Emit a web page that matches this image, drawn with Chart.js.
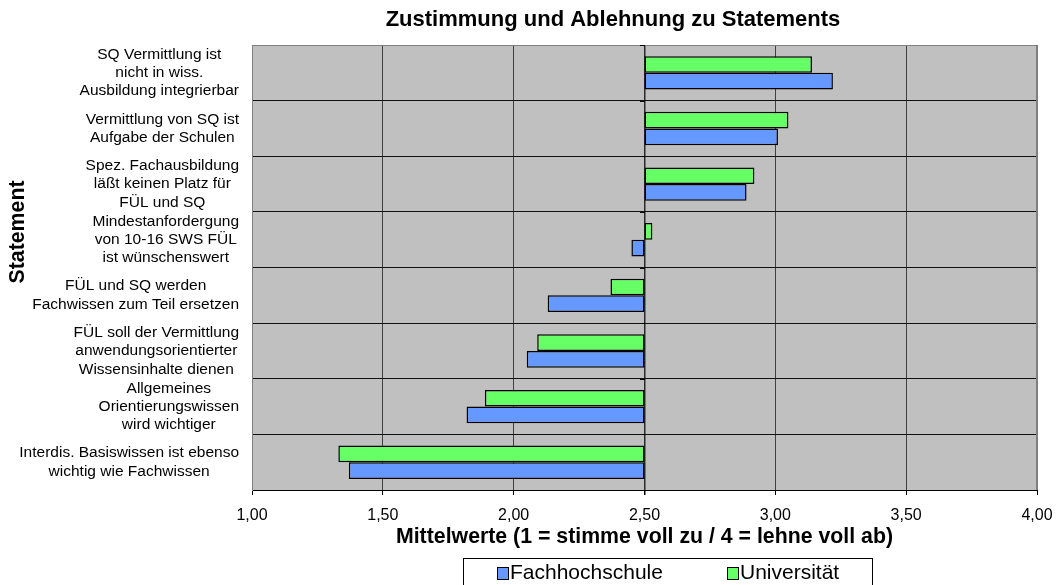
<!DOCTYPE html>
<html>
<head>
<meta charset="utf-8">
<title>Zustimmung und Ablehnung zu Statements</title>
<script src="https://cdn.jsdelivr.net/npm/chart.js@4/dist/chart.umd.min.js"></script>
<style>
  html, body { margin: 0; padding: 0; background: #fff; }
  #wrap { width: 1056px; height: 585px; }
</style>
</head>
<body>
<div id="wrap"><canvas id="chart" width="1056" height="585"></canvas></div>
<script>
// Daten
const statements = [
  ["SQ Vermittlung ist", "nicht in wiss.", "Ausbildung integrierbar"],
  ["Vermittlung von SQ ist", "Aufgabe der Schulen"],
  ["Spez. Fachausbildung", "läßt keinen Platz für", "FÜL und SQ"],
  ["Mindestanfordergung", "von 10-16 SWS FÜL", "ist wünschenswert"],
  ["FÜL und SQ werden", "Fachwissen zum Teil ersetzen"],
  ["FÜL soll der Vermittlung", "anwendungsorientierter", "Wissensinhalte dienen"],
  ["Allgemeines", "Orientierungswissen", "wird wichtiger"],
  ["Interdis. Basiswissen ist ebenso", "wichtig wie Fachwissen"]
];
const universitaet = [3.14, 3.05, 2.92, 2.53, 2.37, 2.09, 1.89, 1.33];
const fachhochschule = [3.22, 3.01, 2.89, 2.45, 2.13, 2.05, 1.82, 1.37];
const xTicks = [1.0, 1.5, 2.0, 2.5, 3.0, 3.5, 4.0];
const midpoint = 2.5;

const FONT = "'Liberation Sans', Arial, sans-serif";
const GREEN = "#66FF66";
const BLUE = "#6699FF";

// Hintergrund, Rahmen, Beschriftungen und Legende
const decor = {
  id: "decor",
  beforeDraw(chart) {
    const {ctx, chartArea: a} = chart;
    ctx.save();
    ctx.fillStyle = "#C0C0C0";
    ctx.fillRect(a.left, a.top, a.right - a.left, a.bottom - a.top);
    ctx.restore();
  },
  afterDraw(chart) {
    const {ctx, chartArea: a} = chart;
    const yScale = chart.scales.y;
    const xScale = chart.scales.x;
    ctx.save();

    // Rahmen oben / rechts / links grau
    ctx.strokeStyle = "#808080";
    ctx.lineWidth = 1;
    ctx.beginPath();
    ctx.moveTo(a.left + 0.5, a.bottom);
    ctx.lineTo(a.left + 0.5, a.top + 0.5);
    ctx.lineTo(a.right - 0.5, a.top + 0.5);
    ctx.lineTo(a.right - 0.5, a.bottom);
    ctx.stroke();

    // kleine Teilstriche an der Kategorienachse (bei 2,50)
    const ax = Math.round(xScale.getPixelForValue(midpoint));
    ctx.strokeStyle = "#000";
    ctx.beginPath();
    for (let i = 0; i <= statements.length; i++) {
      const y = Math.round(yScale.getPixelForValue(i - 0.5)) + 0.5;
      ctx.moveTo(ax - 5, y);
      ctx.lineTo(ax, y);
    }
    ctx.stroke();

    // Titel
    ctx.fillStyle = "#000";
    ctx.textBaseline = "middle";
    ctx.textAlign = "center";
    ctx.font = "bold 22px " + FONT;
    ctx.fillText("Zustimmung und Ablehnung zu Statements", 613, 20);

    // x-Achsentitel
    ctx.font = "bold 21.3px " + FONT;
    ctx.fillText("Mittelwerte (1 = stimme voll zu / 4 = lehne voll ab)", (a.left + a.right) / 2, 537);

    // y-Achsentitel
    ctx.save();
    ctx.translate(18, 232);
    ctx.rotate(-Math.PI / 2);
    ctx.fillText("Statement", 0, 0);
    ctx.restore();

    // Kategorienbeschriftung: Zeilen zentriert, Block rechtsbündig
    ctx.font = "15.5px " + FONT;
    const right = 239;
    const lh = 18.3;
    statements.forEach((lines, i) => {
      const cy = yScale.getPixelForValue(i);
      const w = Math.max(...lines.map(l => ctx.measureText(l).width));
      const cx = right - w / 2;
      const y0 = cy - (lines.length - 1) * lh / 2;
      lines.forEach((l, j) => ctx.fillText(l, cx, y0 + j * lh));
    });

    // Legende
    ctx.strokeStyle = "#000";
    ctx.lineWidth = 1;
    ctx.fillStyle = "#fff";
    ctx.fillRect(463.5, 558.5, 409, 40);
    ctx.strokeRect(463.5, 558.5, 409, 40);
    ctx.font = "21px " + FONT;
    ctx.textAlign = "left";
    const items = [
      {label: "Fachhochschule", color: BLUE, x: 497},
      {label: "Universität", color: GREEN, x: 727}
    ];
    items.forEach(it => {
      ctx.fillStyle = it.color;
      ctx.fillRect(it.x + 0.5, 567.5, 11, 12);
      ctx.strokeStyle = "#000";
      ctx.strokeRect(it.x + 0.5, 567.5, 11, 12);
      ctx.fillStyle = "#000";
      ctx.fillText(it.label, it.x + 13, 573);
    });

    ctx.restore();
  }
};

const ctx = document.getElementById("chart").getContext("2d");
const chart = new Chart(ctx, {
  type: "bar",
  data: {
    labels: statements,
    datasets: [
      {
        label: "Universität",
        data: universitaet.map(v => [midpoint, v]),
        backgroundColor: GREEN,
        borderColor: "#000",
        borderWidth: 1.5,
        borderSkipped: false
      },
      {
        label: "Fachhochschule",
        data: fachhochschule.map(v => [midpoint, v]),
        backgroundColor: BLUE,
        borderColor: "#000",
        borderWidth: 1.5,
        borderSkipped: false
      }
    ]
  },
  options: {
    indexAxis: "y",
    responsive: false,
    animation: false,
    devicePixelRatio: 1,
    layout: { padding: { left: 0, right: 19, top: 45, bottom: 0 } },
    datasets: { bar: { categoryPercentage: 0.6, barPercentage: 1.0 } },
    plugins: {
      legend: { display: false },
      title: { display: false },
      tooltip: { enabled: false }
    },
    scales: {
      x: {
        type: "linear",
        min: 1,
        max: 4,
        afterBuildTicks: (scale) => { scale.ticks = xTicks.map(v => ({value: v})); },
        afterFit: (scale) => {
          scale.height = 95;
          scale.paddingLeft = 0;
          scale.paddingRight = 0;
        },
        ticks: {
          color: "#000",
          padding: 11,
          font: { family: FONT, size: 16 },
          callback: (v) => Number(v).toFixed(2).replace(".", ",")
        },
        grid: {
          color: (c) => {
            const v = c.tick && c.tick.value;
            if (v === midpoint) return "#2a2a2a";
            if (v === 1 || v === 4) return "#808080";
            return "#404040";
          },
          lineWidth: (c) => (c.tick && c.tick.value === midpoint ? 1.5 : 1),
          tickColor: "#000",
          tickLength: 5,
          drawTicks: true
        },
        border: { display: true, color: "#000", width: 1 }
      },
      y: {
        type: "category",
        afterFit: (scale) => { scale.width = 252; },
        ticks: { display: false },
        grid: {
          offset: true,
          color: "#111",
          lineWidth: 1,
          drawTicks: false
        },
        border: { display: true, color: "#808080", width: 1 }
      }
    }
  },
  plugins: [decor]
});
</script>
</body>
</html>
